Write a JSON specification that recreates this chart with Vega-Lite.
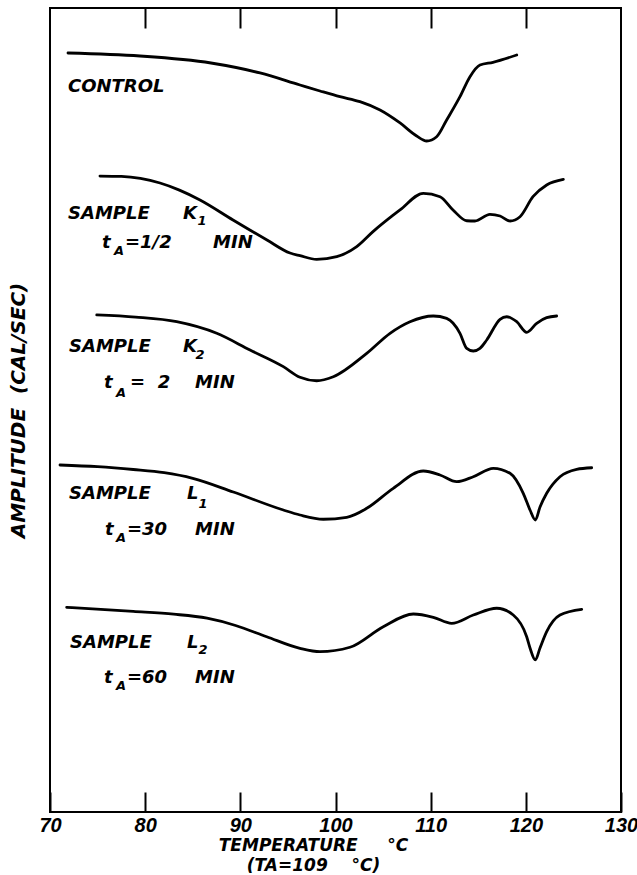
{
  "$schema": "https://vega.github.io/schema/vega-lite/v6.json",
  "width": 571,
  "height": 804,
  "autosize": "none",
  "padding": {"left": 50, "top": 8, "right": 16, "bottom": 63},
  "background": "white",
  "config": {
    "view": {"stroke": "black", "strokeWidth": 2},
    "font": "DejaVu Sans"
  },
  "datasets": {
    "curves": [
      {"series": "control", "T": 71.89, "A": 94.40},
      {"series": "control", "T": 79.46, "A": 94.03},
      {"series": "control", "T": 86.92, "A": 93.16},
      {"series": "control", "T": 92.07, "A": 91.92},
      {"series": "control", "T": 96.27, "A": 90.42},
      {"series": "control", "T": 98.37, "A": 89.68},
      {"series": "control", "T": 100.47, "A": 88.97},
      {"series": "control", "T": 102.57, "A": 88.35},
      {"series": "control", "T": 104.68, "A": 87.31},
      {"series": "control", "T": 106.78, "A": 85.70},
      {"series": "control", "T": 108.53, "A": 84.08},
      {"series": "control", "T": 109.58, "A": 83.46},
      {"series": "control", "T": 110.63, "A": 83.99},
      {"series": "control", "T": 111.68, "A": 86.07},
      {"series": "control", "T": 113.08, "A": 88.97},
      {"series": "control", "T": 114.13, "A": 91.46},
      {"series": "control", "T": 115.18, "A": 92.91},
      {"series": "control", "T": 116.55, "A": 93.25},
      {"series": "control", "T": 119.04, "A": 94.15},

      {"series": "K1", "T": 75.25, "A": 79.10},
      {"series": "K1", "T": 77.50, "A": 79.05},
      {"series": "K1", "T": 79.50, "A": 78.80},
      {"series": "K1", "T": 81.56, "A": 78.23},
      {"series": "K1", "T": 83.60, "A": 77.35},
      {"series": "K1", "T": 85.76, "A": 76.12},
      {"series": "K1", "T": 89.23, "A": 73.63},
      {"series": "K1", "T": 92.80, "A": 71.14},
      {"series": "K1", "T": 95.22, "A": 69.53},
      {"series": "K1", "T": 96.27, "A": 69.20},
      {"series": "K1", "T": 98.02, "A": 68.74},
      {"series": "K1", "T": 100.13, "A": 69.07},
      {"series": "K1", "T": 102.23, "A": 70.31},
      {"series": "K1", "T": 103.94, "A": 72.18},
      {"series": "K1", "T": 106.78, "A": 74.88},
      {"series": "K1", "T": 109.23, "A": 76.95},
      {"series": "K1", "T": 110.98, "A": 76.53},
      {"series": "K1", "T": 112.35, "A": 74.88},
      {"series": "K1", "T": 113.79, "A": 73.54},
      {"series": "K1", "T": 114.66, "A": 73.51},
      {"series": "K1", "T": 116.23, "A": 74.34},
      {"series": "K1", "T": 117.29, "A": 74.13},
      {"series": "K1", "T": 118.34, "A": 73.51},
      {"series": "K1", "T": 119.39, "A": 74.04},
      {"series": "K1", "T": 120.75, "A": 76.53},
      {"series": "K1", "T": 122.19, "A": 77.99},
      {"series": "K1", "T": 123.94, "A": 78.69},

      {"series": "K2", "T": 74.91, "A": 61.82},
      {"series": "K2", "T": 79.00, "A": 61.55},
      {"series": "K2", "T": 83.31, "A": 60.98},
      {"series": "K2", "T": 87.52, "A": 59.54},
      {"series": "K2", "T": 91.02, "A": 57.46},
      {"series": "K2", "T": 94.52, "A": 55.39},
      {"series": "K2", "T": 96.27, "A": 54.07},
      {"series": "K2", "T": 98.02, "A": 53.64},
      {"series": "K2", "T": 99.77, "A": 54.14},
      {"series": "K2", "T": 103.28, "A": 57.05},
      {"series": "K2", "T": 105.73, "A": 59.54},
      {"series": "K2", "T": 107.83, "A": 60.98},
      {"series": "K2", "T": 110.28, "A": 61.69},
      {"series": "K2", "T": 111.68, "A": 61.40},
      {"series": "K2", "T": 113.08, "A": 59.54},
      {"series": "K2", "T": 113.79, "A": 57.67},
      {"series": "K2", "T": 114.48, "A": 57.34},
      {"series": "K2", "T": 115.18, "A": 57.67},
      {"series": "K2", "T": 115.89, "A": 58.71},
      {"series": "K2", "T": 117.29, "A": 61.28},
      {"series": "K2", "T": 117.99, "A": 61.60},
      {"series": "K2", "T": 119.04, "A": 60.98},
      {"series": "K2", "T": 120.09, "A": 59.66},
      {"series": "K2", "T": 121.14, "A": 60.78},
      {"series": "K2", "T": 122.19, "A": 61.48},
      {"series": "K2", "T": 123.24, "A": 61.69},

      {"series": "L1", "T": 71.05, "A": 43.16},
      {"series": "L1", "T": 75.00, "A": 42.95},
      {"series": "L1", "T": 78.75, "A": 42.60},
      {"series": "L1", "T": 82.00, "A": 42.20},
      {"series": "L1", "T": 85.00, "A": 41.50},
      {"series": "L1", "T": 89.26, "A": 39.80},
      {"series": "L1", "T": 94.52, "A": 37.56},
      {"series": "L1", "T": 96.27, "A": 36.94},
      {"series": "L1", "T": 98.72, "A": 36.41},
      {"series": "L1", "T": 101.18, "A": 36.65},
      {"series": "L1", "T": 103.28, "A": 37.77},
      {"series": "L1", "T": 106.07, "A": 40.26},
      {"series": "L1", "T": 109.23, "A": 42.41},
      {"series": "L1", "T": 110.98, "A": 41.92},
      {"series": "L1", "T": 112.74, "A": 41.08},
      {"series": "L1", "T": 114.48, "A": 41.70},
      {"series": "L1", "T": 116.58, "A": 42.75},
      {"series": "L1", "T": 118.34, "A": 42.13},
      {"series": "L1", "T": 119.73, "A": 39.64},
      {"series": "L1", "T": 120.44, "A": 37.56},
      {"series": "L1", "T": 121.00, "A": 36.32},
      {"series": "L1", "T": 121.49, "A": 37.94},
      {"series": "L1", "T": 122.19, "A": 39.64},
      {"series": "L1", "T": 123.59, "A": 41.70},
      {"series": "L1", "T": 125.34, "A": 42.62},
      {"series": "L1", "T": 126.92, "A": 42.82},

      {"series": "L2", "T": 71.75, "A": 25.46},
      {"series": "L2", "T": 78.75, "A": 24.95},
      {"series": "L2", "T": 83.00, "A": 24.60},
      {"series": "L2", "T": 86.50, "A": 24.10},
      {"series": "L2", "T": 89.50, "A": 23.20},
      {"series": "L2", "T": 92.77, "A": 21.80},
      {"series": "L2", "T": 96.27, "A": 20.36},
      {"series": "L2", "T": 98.37, "A": 19.94},
      {"series": "L2", "T": 101.52, "A": 20.49},
      {"series": "L2", "T": 105.02, "A": 23.05},
      {"series": "L2", "T": 108.18, "A": 24.63},
      {"series": "L2", "T": 110.28, "A": 24.22},
      {"series": "L2", "T": 112.21, "A": 23.47},
      {"series": "L2", "T": 114.48, "A": 24.50},
      {"series": "L2", "T": 116.94, "A": 25.34},
      {"series": "L2", "T": 118.68, "A": 24.50},
      {"series": "L2", "T": 120.09, "A": 21.80},
      {"series": "L2", "T": 120.44, "A": 20.40},
      {"series": "L2", "T": 121.00, "A": 18.91},
      {"series": "L2", "T": 121.49, "A": 20.40},
      {"series": "L2", "T": 122.19, "A": 22.43},
      {"series": "L2", "T": 123.59, "A": 24.50},
      {"series": "L2", "T": 125.87, "A": 25.21}
    ],
    "labels": [
      {"text": "CONTROL", "T": 71.89, "A": 90.17},
      {"text": "SAMPLE", "T": 71.89, "A": 74.44},
      {"text": "K", "T": 83.98, "A": 74.44},
      {"text": "t", "T": 75.46, "A": 70.77},
      {"text": "=1/2", "T": 77.88, "A": 70.77},
      {"text": "MIN", "T": 87.13, "A": 70.77},
      {"text": "SAMPLE", "T": 72.00, "A": 57.87},
      {"text": "K", "T": 83.98, "A": 57.87},
      {"text": "t", "T": 75.67, "A": 53.36},
      {"text": "=\u00a0\u00a02", "T": 78.41, "A": 53.36},
      {"text": "MIN", "T": 85.24, "A": 53.36},
      {"text": "SAMPLE", "T": 72.00, "A": 39.55},
      {"text": "L", "T": 84.40, "A": 39.55},
      {"text": "t", "T": 75.78, "A": 35.07},
      {"text": "=30", "T": 78.09, "A": 35.07},
      {"text": "MIN", "T": 85.24, "A": 35.07},
      {"text": "SAMPLE", "T": 72.10, "A": 21.08},
      {"text": "L", "T": 84.40, "A": 21.08},
      {"text": "t", "T": 75.67, "A": 16.67},
      {"text": "=60", "T": 78.09, "A": 16.67},
      {"text": "MIN", "T": 85.24, "A": 16.67}
    ],
    "subs": [
      {"text": "1", "T": 85.50, "A": 73.51},
      {"text": "A", "T": 76.73, "A": 69.78},
      {"text": "2", "T": 85.30, "A": 56.84},
      {"text": "A", "T": 76.94, "A": 52.11},
      {"text": "1", "T": 85.60, "A": 38.31},
      {"text": "A", "T": 76.94, "A": 34.08},
      {"text": "2", "T": 85.60, "A": 20.15},
      {"text": "A", "T": 76.94, "A": 15.67}
    ]
  },
  "layer": [
    {
      "data": {"name": "curves"},
      "mark": {"type": "line", "interpolate": "monotone", "color": "black", "strokeWidth": 2.8, "strokeCap": "round", "strokeJoin": "round"},
      "encoding": {
        "x": {
          "field": "T", "type": "quantitative",
          "scale": {"domain": [70, 130], "nice": false, "zero": false},
          "axis": {
            "orient": "bottom",
            "values": [70, 80, 90, 100, 110, 120, 130],
            "tickSize": -20, "tickWidth": 2, "tickColor": "black",
            "domain": false, "grid": false,
            "labelPadding": 23, "labelFlush": false, "labelDx": -4,
            "labelFont": "Liberation Sans", "labelFontSize": 20, "labelFontWeight": "bold", "labelFontStyle": "italic", "labelColor": "black",
            "title": ["TEMPERATURE\u00a0\u00a0\u00a0\u00a0\u00a0°C", "(TA=109\u00a0\u00a0\u00a0\u00a0°C)"],
            "titleFont": "DejaVu Sans", "titleFontSize": 17, "titleFontWeight": "bold", "titleFontStyle": "italic", "titleColor": "black",
            "titleLineHeight": 20, "titlePadding": 2, "titleX": 263
          }
        },
        "y": {
          "field": "A", "type": "quantitative",
          "scale": {"domain": [0, 100], "nice": false, "zero": false},
          "axis": {
            "orient": "left", "ticks": false, "labels": false, "domain": false, "grid": false,
            "title": "AMPLITUDE\u00a0\u00a0(CAL/SEC)",
            "titleFont": "DejaVu Sans", "titleFontSize": 20, "titleFontWeight": "bold", "titleFontStyle": "italic", "titleColor": "black",
            "titlePadding": 22
          }
        },
        "detail": {"field": "series", "type": "nominal"}
      }
    },
    {
      "data": {"name": "labels"},
      "mark": {"type": "text", "align": "left", "baseline": "middle", "font": "DejaVu Sans", "fontSize": 18, "fontWeight": "bold", "fontStyle": "italic", "color": "black"},
      "encoding": {
        "x": {
          "field": "T", "type": "quantitative",
          "axis": {
            "orient": "top", "values": [80, 90, 100, 110, 120],
            "tickSize": -20, "tickWidth": 2, "tickColor": "black",
            "labels": false, "domain": false, "grid": false, "title": null
          }
        },
        "y": {"field": "A", "type": "quantitative", "axis": null},
        "text": {"field": "text"}
      }
    },
    {
      "data": {"name": "subs"},
      "mark": {"type": "text", "align": "left", "baseline": "middle", "font": "DejaVu Sans", "fontSize": 13, "fontWeight": "bold", "fontStyle": "italic", "color": "black"},
      "encoding": {
        "x": {"field": "T", "type": "quantitative", "axis": null},
        "y": {"field": "A", "type": "quantitative", "axis": null},
        "text": {"field": "text"}
      }
    }
  ],
  "resolve": {"axis": {"x": "independent", "y": "independent"}}
}
